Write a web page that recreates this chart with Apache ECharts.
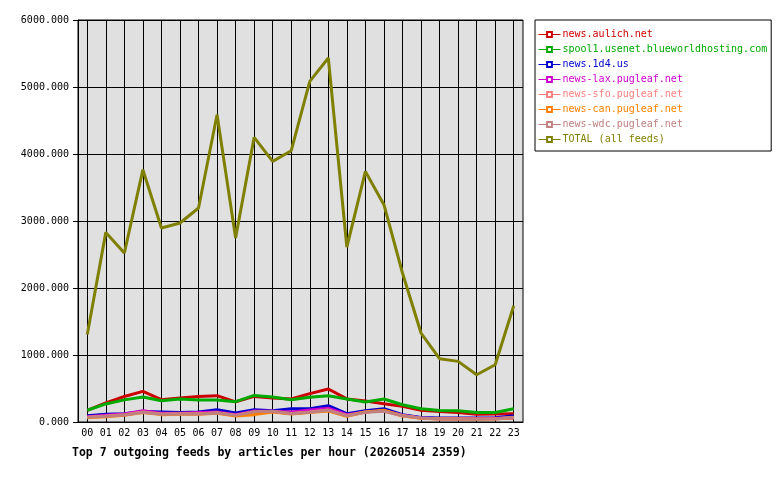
<!DOCTYPE html>
<html>
<head>
<meta charset="utf-8">
<script src="https://cdn.jsdelivr.net/npm/echarts@6/dist/echarts.min.js"></script>
<style>
html,body{margin:0;padding:0;background:#fff;}
#chart{width:780px;height:480px;}
</style>
</head>
<body>
<div id="chart"></div>
<script>
// hours on the x axis
var hours = ["00","01","02","03","04","05","06","07","08","09","10","11",
             "12","13","14","15","16","17","18","19","20","21","22","23"];

var feedNames = ["news.aulich.net","spool1.usenet.blueworldhosting.com","news.1d4.us",
                 "news-lax.pugleaf.net","news-sfo.pugleaf.net","news-can.pugleaf.net",
                 "news-wdc.pugleaf.net","TOTAL (all feeds)"];
var feedColors = ["#cc0000","#00aa00","#0000cc","#cc00cc","#ff8080","#ff8000","#c08080","#808000"];

// articles per hour
var aulich = [175,285,380,457,333,358,382,393,300,382,358,343,423,493,345,315,273,233,175,155,140,115,118,125];
var spool1 = [175,270,330,373,318,343,330,328,303,397,373,333,368,393,343,298,343,258,198,173,168,143,143,198];
var n1d4   = [94,114,124,158,149,140,149,184,134,184,169,199,199,243,124,169,199,109,69,60,60,60,62,94];
var lax    = [80,100,120,170,130,130,140,150,110,165,160,150,180,205,110,150,170,100,60,50,50,50,55,60];
var sfo    = [72,88,108,148,118,122,122,138,102,150,158,128,148,178,98,150,165,98,55,48,48,45,48,72];
var can    = [65,80,100,140,110,115,115,130,90,110,150,120,140,165,85,150,175,90,55,45,45,42,45,65];
var wdc    = [69,84,104,144,114,119,119,134,99,154,159,124,144,174,94,144,159,94,60,45,45,42,45,69];
var total  = [1307,2830,2522,3766,2896,2970,3194,4587,2746,4248,3890,4049,
              5084,5433,2610,3740,3243,2224,1328,945,905,706,855,1736];

var allData = [aulich, spool1, n1d4, lax, sfo, can, wdc, total];

var font = "DejaVu Sans Mono";

// plot area in pixels
var plotLeft = 78, plotRight = 257, plotTop = 20, plotBottom = 58;
var halfBand = (780 - plotLeft - plotRight) / hours.length / 2;

var chart = echarts.init(document.getElementById("chart"), null, {renderer: "canvas"});

var seriesList = [];
for (var i = 0; i < allData.length; i++) {
	seriesList.push({
		name: feedNames[i],
		type: "line",
		data: allData[i],
		symbol: "emptyRect",
		showSymbol: false,
		silent: true,
		animation: false,
		color: feedColors[i],
		lineStyle: {width: 3, color: feedColors[i]}
	});
}

var legendData = feedNames.map(function(n, i){
	return {name: n, textStyle: {color: feedColors[i]}};
});

var option = {
	backgroundColor: "#fff",
	animation: false,
	title: {
		text: "Top 7 outgoing feeds by articles per hour (20260514 2359)",
		left: 67,
		top: 442,
		textStyle: {fontFamily: font, fontSize: 11.5, fontWeight: "bold", color: "#000"}
	},
	legend: {
		orient: "vertical",
		left: 535,
		top: 20,
		padding: [7, 4, 4, 3],
		itemWidth: 22,
		itemHeight: 6,
		itemGap: 0,
		borderColor: "#000",
		borderWidth: 1,
		backgroundColor: "#fff",
		selectedMode: false,
		lineStyle: {width: 1},
		textStyle: {fontFamily: font, fontSize: 10, lineHeight: 15, padding: [0, 0, 0, -3]},
		data: legendData
	},
	grid: [{
		left: plotLeft, right: plotRight, top: plotTop, bottom: plotBottom,
		show: true,
		backgroundColor: "#e0e0e0",
		borderColor: "#000",
		borderWidth: 1
	}, {
		// same area shrunk by half a band, only used for the vertical lines through each hour
		left: plotLeft + halfBand, right: plotRight + halfBand, top: plotTop, bottom: plotBottom
	}],
	xAxis: [{
		type: "category",
		data: hours,
		boundaryGap: true,
		axisLine: {lineStyle: {color: "#000", width: 1}},
		axisTick: {alignWithLabel: true, length: 4, lineStyle: {color: "#000"}},
		axisLabel: {fontFamily: font, fontSize: 10, color: "#000", margin: 6, interval: 0},
		splitLine: {show: false}
	}, {
		type: "value",
		gridIndex: 1,
		min: 0,
		max: hours.length - 1,
		interval: 1,
		axisLine: {show: false},
		axisTick: {show: false},
		axisLabel: {show: false},
		splitLine: {show: true, lineStyle: {color: "#000", width: 1}}
	}],
	yAxis: [{
		type: "value",
		min: 0,
		max: 6000,
		interval: 1000,
		axisLine: {show: true, lineStyle: {color: "#000", width: 1}},
		axisTick: {show: true, length: 5, lineStyle: {color: "#000"}},
		axisLabel: {
			fontFamily: font, fontSize: 10, color: "#000", margin: 9,
			formatter: function(v){ return v.toFixed(3); }
		},
		splitLine: {show: true, lineStyle: {color: "#000", width: 1}}
	}, {
		type: "value",
		gridIndex: 1,
		min: 0,
		max: 6000,
		show: false,
		splitLine: {show: false}
	}],
	series: seriesList
};

chart.setOption(option);
</script>
</body>
</html>
